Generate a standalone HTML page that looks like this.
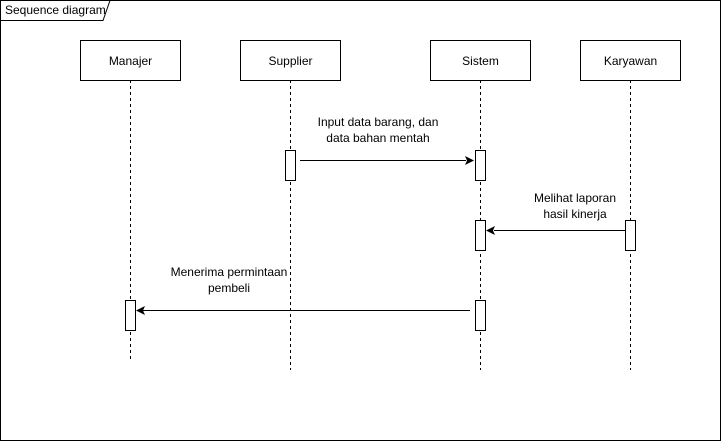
<!DOCTYPE html>
<html><head><style>body{margin:0;background:#fff}</style></head><body>
<svg width="721" height="441" xmlns="http://www.w3.org/2000/svg" font-family="Liberation Sans, Arial, sans-serif" font-size="12" fill="none">
<rect x="0.5" y="0.5" width="720" height="440" stroke="#000"/>
<path d="M0.5 20.5 H103 L110 0.5" stroke="#000"/>
<text x="5" y="14" fill="#000">Sequence diagram</text>
<g stroke="#000" stroke-dasharray="3,3">
<line x1="130.5" y1="80" x2="130.5" y2="360"/>
<line x1="290.5" y1="80" x2="290.5" y2="370"/>
<line x1="480.5" y1="80" x2="480.5" y2="370"/>
<line x1="630.5" y1="80" x2="630.5" y2="370"/>
</g>
<g stroke="#000" fill="#fff">
<rect x="80.5" y="40.5" width="100" height="40"/>
<rect x="240.5" y="40.5" width="100" height="40"/>
<rect x="430.5" y="40.5" width="100" height="40"/>
<rect x="580.5" y="40.5" width="100" height="40"/>
<rect x="285.5" y="150.5" width="10" height="30"/>
<rect x="475.5" y="150.5" width="10" height="30"/>
<rect x="475.5" y="220.5" width="10" height="30"/>
<rect x="625.5" y="220.5" width="10" height="30"/>
<rect x="475.5" y="300.5" width="10" height="30"/>
<rect x="125.5" y="300.5" width="10" height="30"/>
</g>
<g fill="#000" text-anchor="middle">
<text x="130.5" y="65">Manajer</text>
<text x="290.5" y="65">Supplier</text>
<text x="480.5" y="65">Sistem</text>
<text x="630.5" y="65">Karyawan</text>
<text x="378" y="126">Input data barang, dan</text>
<text x="378" y="142">data bahan mentah</text>
<text x="575" y="202">Melihat laporan</text>
<text x="575" y="218">hasil kinerja</text>
<text x="229" y="276">Menerima permintaan</text>
<text x="229" y="292">pembeli</text>
</g>
<g stroke="#000">
<line x1="300" y1="160.5" x2="466" y2="160.5"/>
<line x1="494" y1="230.5" x2="625" y2="230.5"/>
<line x1="139" y1="310.5" x2="470" y2="310.5"/>
</g>
<g fill="#000">
<path d="M474 160.5 L465 156 L467 160.5 L465 165 Z"/>
<path d="M486 230.5 L495 226 L493 230.5 L495 235 Z"/>
<path d="M136 310.5 L145 306 L143 310.5 L145 315 Z"/>
</g>
</svg>
</body></html>
